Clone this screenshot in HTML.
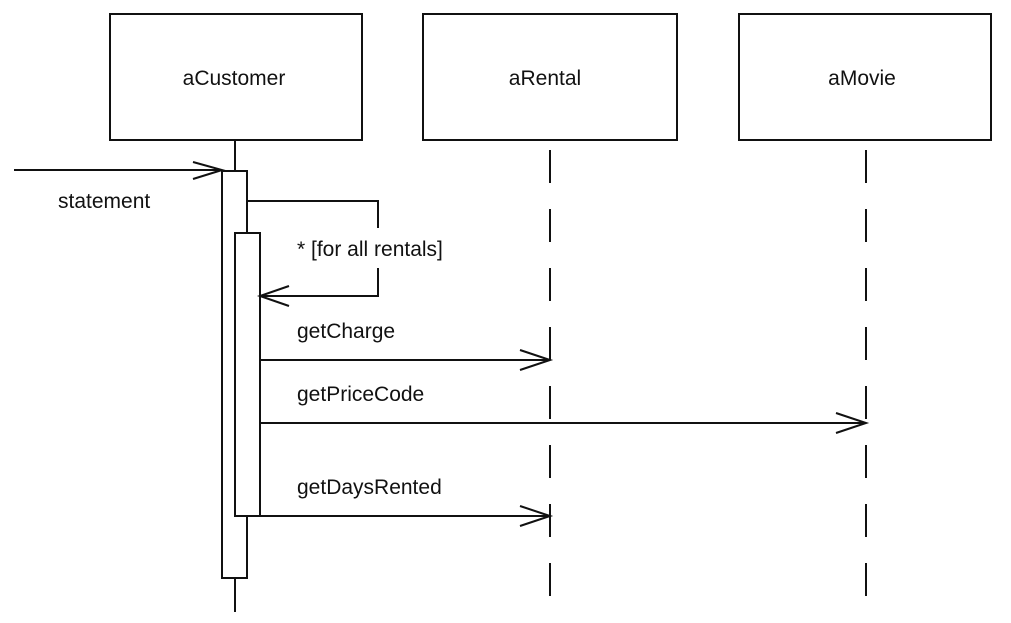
<!DOCTYPE html>
<html><head><style>
html,body{margin:0;padding:0;background:#fff;}
svg text{font-family:"Liberation Sans",Arial,sans-serif;font-size:21px;fill:#111;}
</style></head><body>
<svg width="1011" height="618" viewBox="0 0 1011 618" xmlns="http://www.w3.org/2000/svg">
<g stroke="#111" stroke-width="2" fill="none">
<rect x="110" y="14" width="252" height="126"/>
<rect x="423" y="14" width="254" height="126"/>
<rect x="739" y="14" width="252" height="126"/>
<line x1="235" y1="140" x2="235" y2="171"/>
<line x1="235" y1="578" x2="235" y2="612"/>
<line x1="550" y1="150" x2="550" y2="612" stroke-dasharray="33,26"/>
<line x1="866" y1="150" x2="866" y2="612" stroke-dasharray="33,26"/>
<rect x="222" y="171" width="25" height="407" fill="#fff"/>
<rect x="235" y="233" width="25" height="283" fill="#fff"/>
<line x1="14" y1="170" x2="222" y2="170"/>
<polyline points="193,162 222,170 193,179"/>
<polyline points="247,201 378,201 378,228"/>
<polyline points="378,268 378,296 260,296"/>
<polyline points="289,286 260,296 289,306"/>
<line x1="260" y1="360" x2="550" y2="360"/>
<polyline points="520,350 550,360 520,370"/>
<line x1="260" y1="423" x2="866" y2="423"/>
<polyline points="836,413 866,423 836,433"/>
<line x1="260" y1="516" x2="550" y2="516"/>
<polyline points="520,506 550,516 520,526"/>
</g>
<text x="234" y="85" text-anchor="middle">aCustomer</text>
<text x="545" y="85" text-anchor="middle">aRental</text>
<text x="862" y="85" text-anchor="middle">aMovie</text>
<text x="58" y="208">statement</text>
<text x="297" y="256">* [for all rentals]</text>
<text x="297" y="338">getCharge</text>
<text x="297" y="401">getPriceCode</text>
<text x="297" y="494">getDaysRented</text>
</svg>
</body></html>
